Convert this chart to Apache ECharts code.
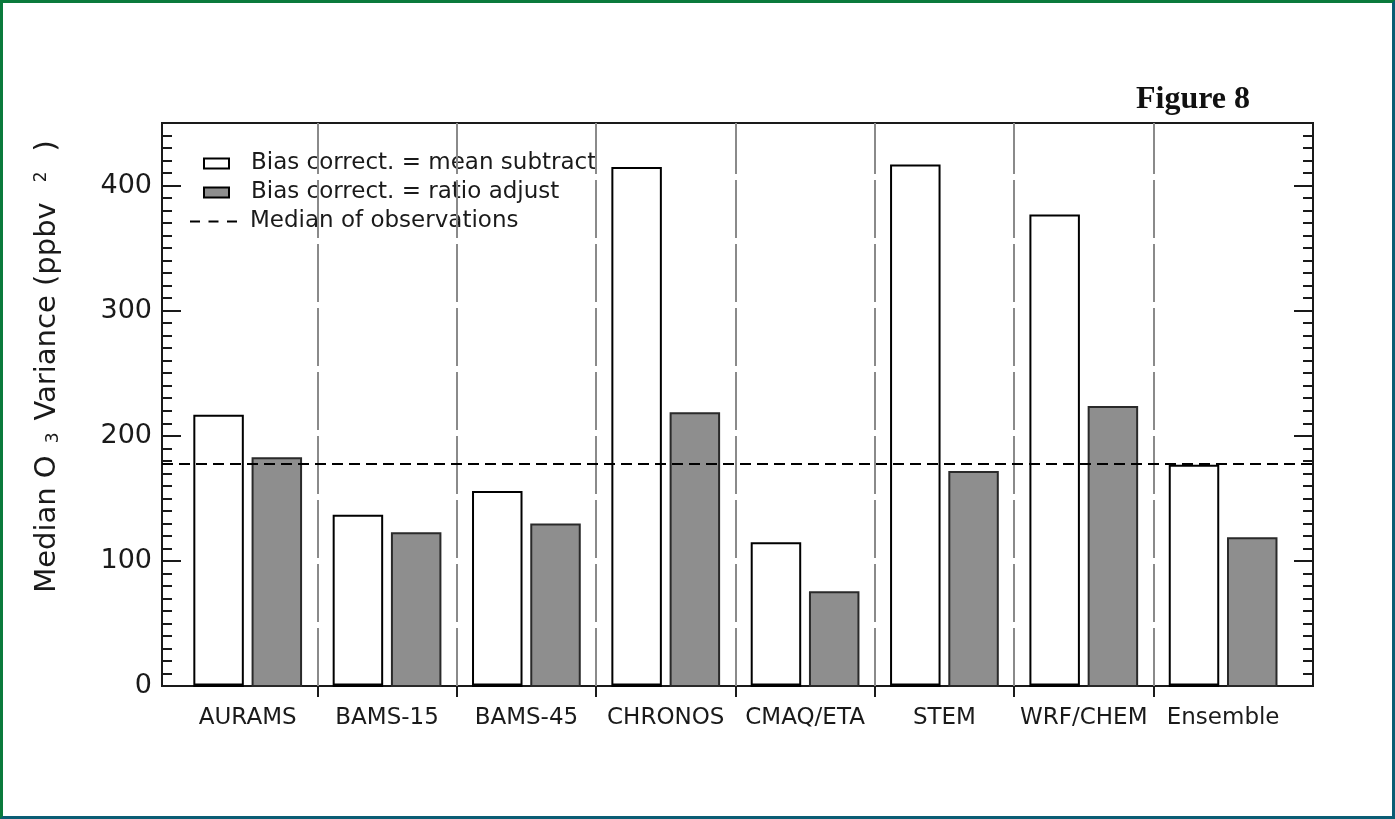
<!DOCTYPE html>
<html>
<head>
<meta charset="utf-8">
<script src="https://cdn.jsdelivr.net/npm/echarts@6/dist/echarts.min.js"></script>
<style>
  html, body { margin: 0; padding: 0; background: #fff; }
  #chart { position: absolute; left: 0; top: 0; width: 1395px; height: 819px; }
  #frame { position: absolute; left: 0; top: 0; width: 1395px; height: 819px; box-sizing: border-box;
           border-top: 3px solid #0a7a3c; border-left: 3px solid #0a7a3c;
           border-right: 3px solid #0b5d74; border-bottom: 3px solid #0b5d74; pointer-events: none; }
</style>
</head>
<body>
<div id="chart"></div>
<div id="frame"></div>
<script>
// Median O3 variance per model, for two bias-correction methods
const categories = ['AURAMS', 'BAMS-15', 'BAMS-45', 'CHRONOS', 'CMAQ/ETA', 'STEM', 'WRF/CHEM', 'Ensemble'];
const meanSubtract = [216, 136, 155, 414, 114, 416, 376, 176];
const ratioAdjust  = [182, 122, 129, 218, 75, 171, 223, 118];
const medianObs = 178;
const yTickValues = [0, 100, 200, 300, 400];

const catIdx = categories.map((c, i) => i);
const boundaries = categories.slice(1).map((c, i) => i + 0.5);

const FONT = 'DejaVu Sans';
const INK = '#1a1a1a';
const BAR_W = 0.348;
const OFFSET = 0.209;

function barRenderer(offset, fill, stroke, heavyBase) {
  return function (params, api) {
    const x = api.value(0) + offset;
    const v = api.value(1);
    const tl = api.coord([x - BAR_W / 2, v]);
    const br = api.coord([x + BAR_W / 2, 0]);
    const children = [{
      type: 'rect',
      shape: { x: tl[0], y: tl[1], width: br[0] - tl[0], height: br[1] - tl[1] },
      style: { fill: fill, stroke: stroke, lineWidth: 2 }
    }];
    if (heavyBase) {
      children.push({
        type: 'line',
        shape: { x1: tl[0], y1: br[1] - 1, x2: br[0], y2: br[1] - 1 },
        style: { stroke: '#000', lineWidth: 3 }
      });
    }
    return { type: 'group', children: children };
  };
}

const chart = echarts.init(document.getElementById('chart'), null, { renderer: 'canvas' });

const axisLineStyle = { color: INK, width: 2 };

chart.setOption({
  animation: false,
  backgroundColor: '#fff',
  title: {
    text: 'Figure 8',
    left: 1136, top: 84, padding: 0,
    textStyle: { fontFamily: 'Liberation Serif', fontWeight: 'bold', fontSize: 32, color: '#111' }
  },
  grid: {
    left: 162, right: 82, top: 123, bottom: 133,
    show: true, borderColor: INK, borderWidth: 2, backgroundColor: 'transparent'
  },
  legend: [
    {
      left: 203, top: 152, orient: 'vertical', padding: 0,
      itemWidth: 25, itemHeight: 10, itemGap: 6,
      selectedMode: false,
      textStyle: { fontFamily: FONT, fontSize: 23, color: INK, padding: [0, 0, 0, 17] },
      data: [
        { name: 'Bias correct. = mean subtract', icon: 'rect',
          itemStyle: { color: '#fff', borderColor: '#000', borderWidth: 2 } },
        { name: 'Bias correct. = ratio adjust', icon: 'rect',
          itemStyle: { color: '#8e8e8e', borderColor: '#000', borderWidth: 2 } }
      ]
    },
    {
      left: 190, top: 210, orient: 'vertical', padding: 0,
      itemWidth: 47, itemHeight: 2,
      selectedMode: false,
      textStyle: { fontFamily: FONT, fontSize: 23, color: INK, padding: [0, 0, 0, 8] },
      data: [
        { name: 'Median of observations',
          icon: 'path://M0,0h10v2h-10z M18.5,0h10v2h-10z M37,0h10v2h-10z',
          itemStyle: { color: '#000', borderWidth: 0 } }
      ]
    }
  ],
  xAxis: [
    {
      type: 'value', position: 'bottom', min: -0.615, max: 7.645,
      axisLine: { show: true, onZero: false, lineStyle: axisLineStyle },
      axisTick: { show: true, customValues: boundaries, inside: false, length: 11, lineStyle: axisLineStyle },
      axisLabel: {
        customValues: catIdx,
        formatter: v => categories[Math.round(v)],
        fontFamily: FONT, fontSize: 23, color: INK, margin: 21
      },
      splitLine: { show: false }
    },
    {
      type: 'value', position: 'top', min: -0.615, max: 7.645,
      axisLine: { show: true, onZero: false, lineStyle: axisLineStyle },
      axisTick: { show: true, customValues: boundaries, inside: true, length: 17, lineStyle: axisLineStyle },
      axisLabel: { show: false },
      splitLine: { show: false }
    }
  ],
  yAxis: [
    {
      type: 'value', position: 'left', min: 0, max: 450, interval: 100,
      axisLine: { show: true, onZero: false, lineStyle: axisLineStyle },
      axisTick: { show: true, inside: true, length: 19, lineStyle: axisLineStyle },
      minorTick: { show: true, splitNumber: 10, length: 10, lineStyle: axisLineStyle },
      axisLabel: {
        customValues: yTickValues,
        fontFamily: FONT, fontSize: 27, color: INK, margin: 10
      },
      splitLine: { show: false },
      name: '{a|Median O}{s|3}{a|Variance (ppbv}{p|2}{a|)}',
      nameLocation: 'middle', nameRotate: 90, nameGap: 100,
      nameTextStyle: {
        fontFamily: FONT, fontSize: 29, color: INK,
        padding: [0, 0, 0, 76],
        rich: {
          a: { fontFamily: FONT, fontSize: 29, color: INK },
          s: { fontFamily: FONT, fontSize: 17, color: INK, verticalAlign: 'bottom', padding: [0, 12, 0, 12] },
          p: { fontFamily: FONT, fontSize: 17, color: INK, verticalAlign: 'top', padding: [0, 20, 0, 20] }
        }
      }
    },
    {
      type: 'value', position: 'right', min: 0, max: 450, interval: 100,
      axisLine: { show: true, onZero: false, lineStyle: axisLineStyle },
      axisTick: { show: true, inside: true, length: 19, lineStyle: axisLineStyle },
      minorTick: { show: true, splitNumber: 10, length: 10, lineStyle: axisLineStyle },
      axisLabel: { show: false },
      splitLine: { show: false }
    }
  ],
  series: [
    {
      // model separators
      name: 'separators', type: 'custom', xAxisIndex: 0, yAxisIndex: 0,
      data: [], renderItem: () => null, z: 1,
      markLine: {
        silent: true, symbol: ['none', 'none'], label: { show: false },
        lineStyle: { color: '#8a8a8a', width: 2, type: [58, 6] },
        data: boundaries.map(b => ({ xAxis: b }))
      }
    },
    {
      name: 'Bias correct. = mean subtract', type: 'custom', xAxisIndex: 0, yAxisIndex: 0,
      itemStyle: { color: '#fff', borderColor: '#000', borderWidth: 2 },
      data: catIdx.map(i => [i, meanSubtract[i]]),
      renderItem: barRenderer(-OFFSET, '#fff', '#000', true), z: 3
    },
    {
      name: 'Bias correct. = ratio adjust', type: 'custom', xAxisIndex: 0, yAxisIndex: 0,
      itemStyle: { color: '#8e8e8e', borderColor: '#000', borderWidth: 2 },
      data: catIdx.map(i => [i, ratioAdjust[i]]),
      renderItem: barRenderer(OFFSET, '#8e8e8e', '#2a2a2a', false), z: 3
    },
    {
      name: 'Median of observations', type: 'custom', xAxisIndex: 0, yAxisIndex: 0,
      itemStyle: { color: '#000' },
      data: [], renderItem: () => null, z: 5,
      markLine: {
        silent: true, symbol: ['none', 'none'], label: { show: false }, z: 6,
        lineStyle: { color: '#000', width: 2, type: [11, 6] },
        data: [{ yAxis: medianObs }]
      }
    }
  ]
});
</script>
</body>
</html>
